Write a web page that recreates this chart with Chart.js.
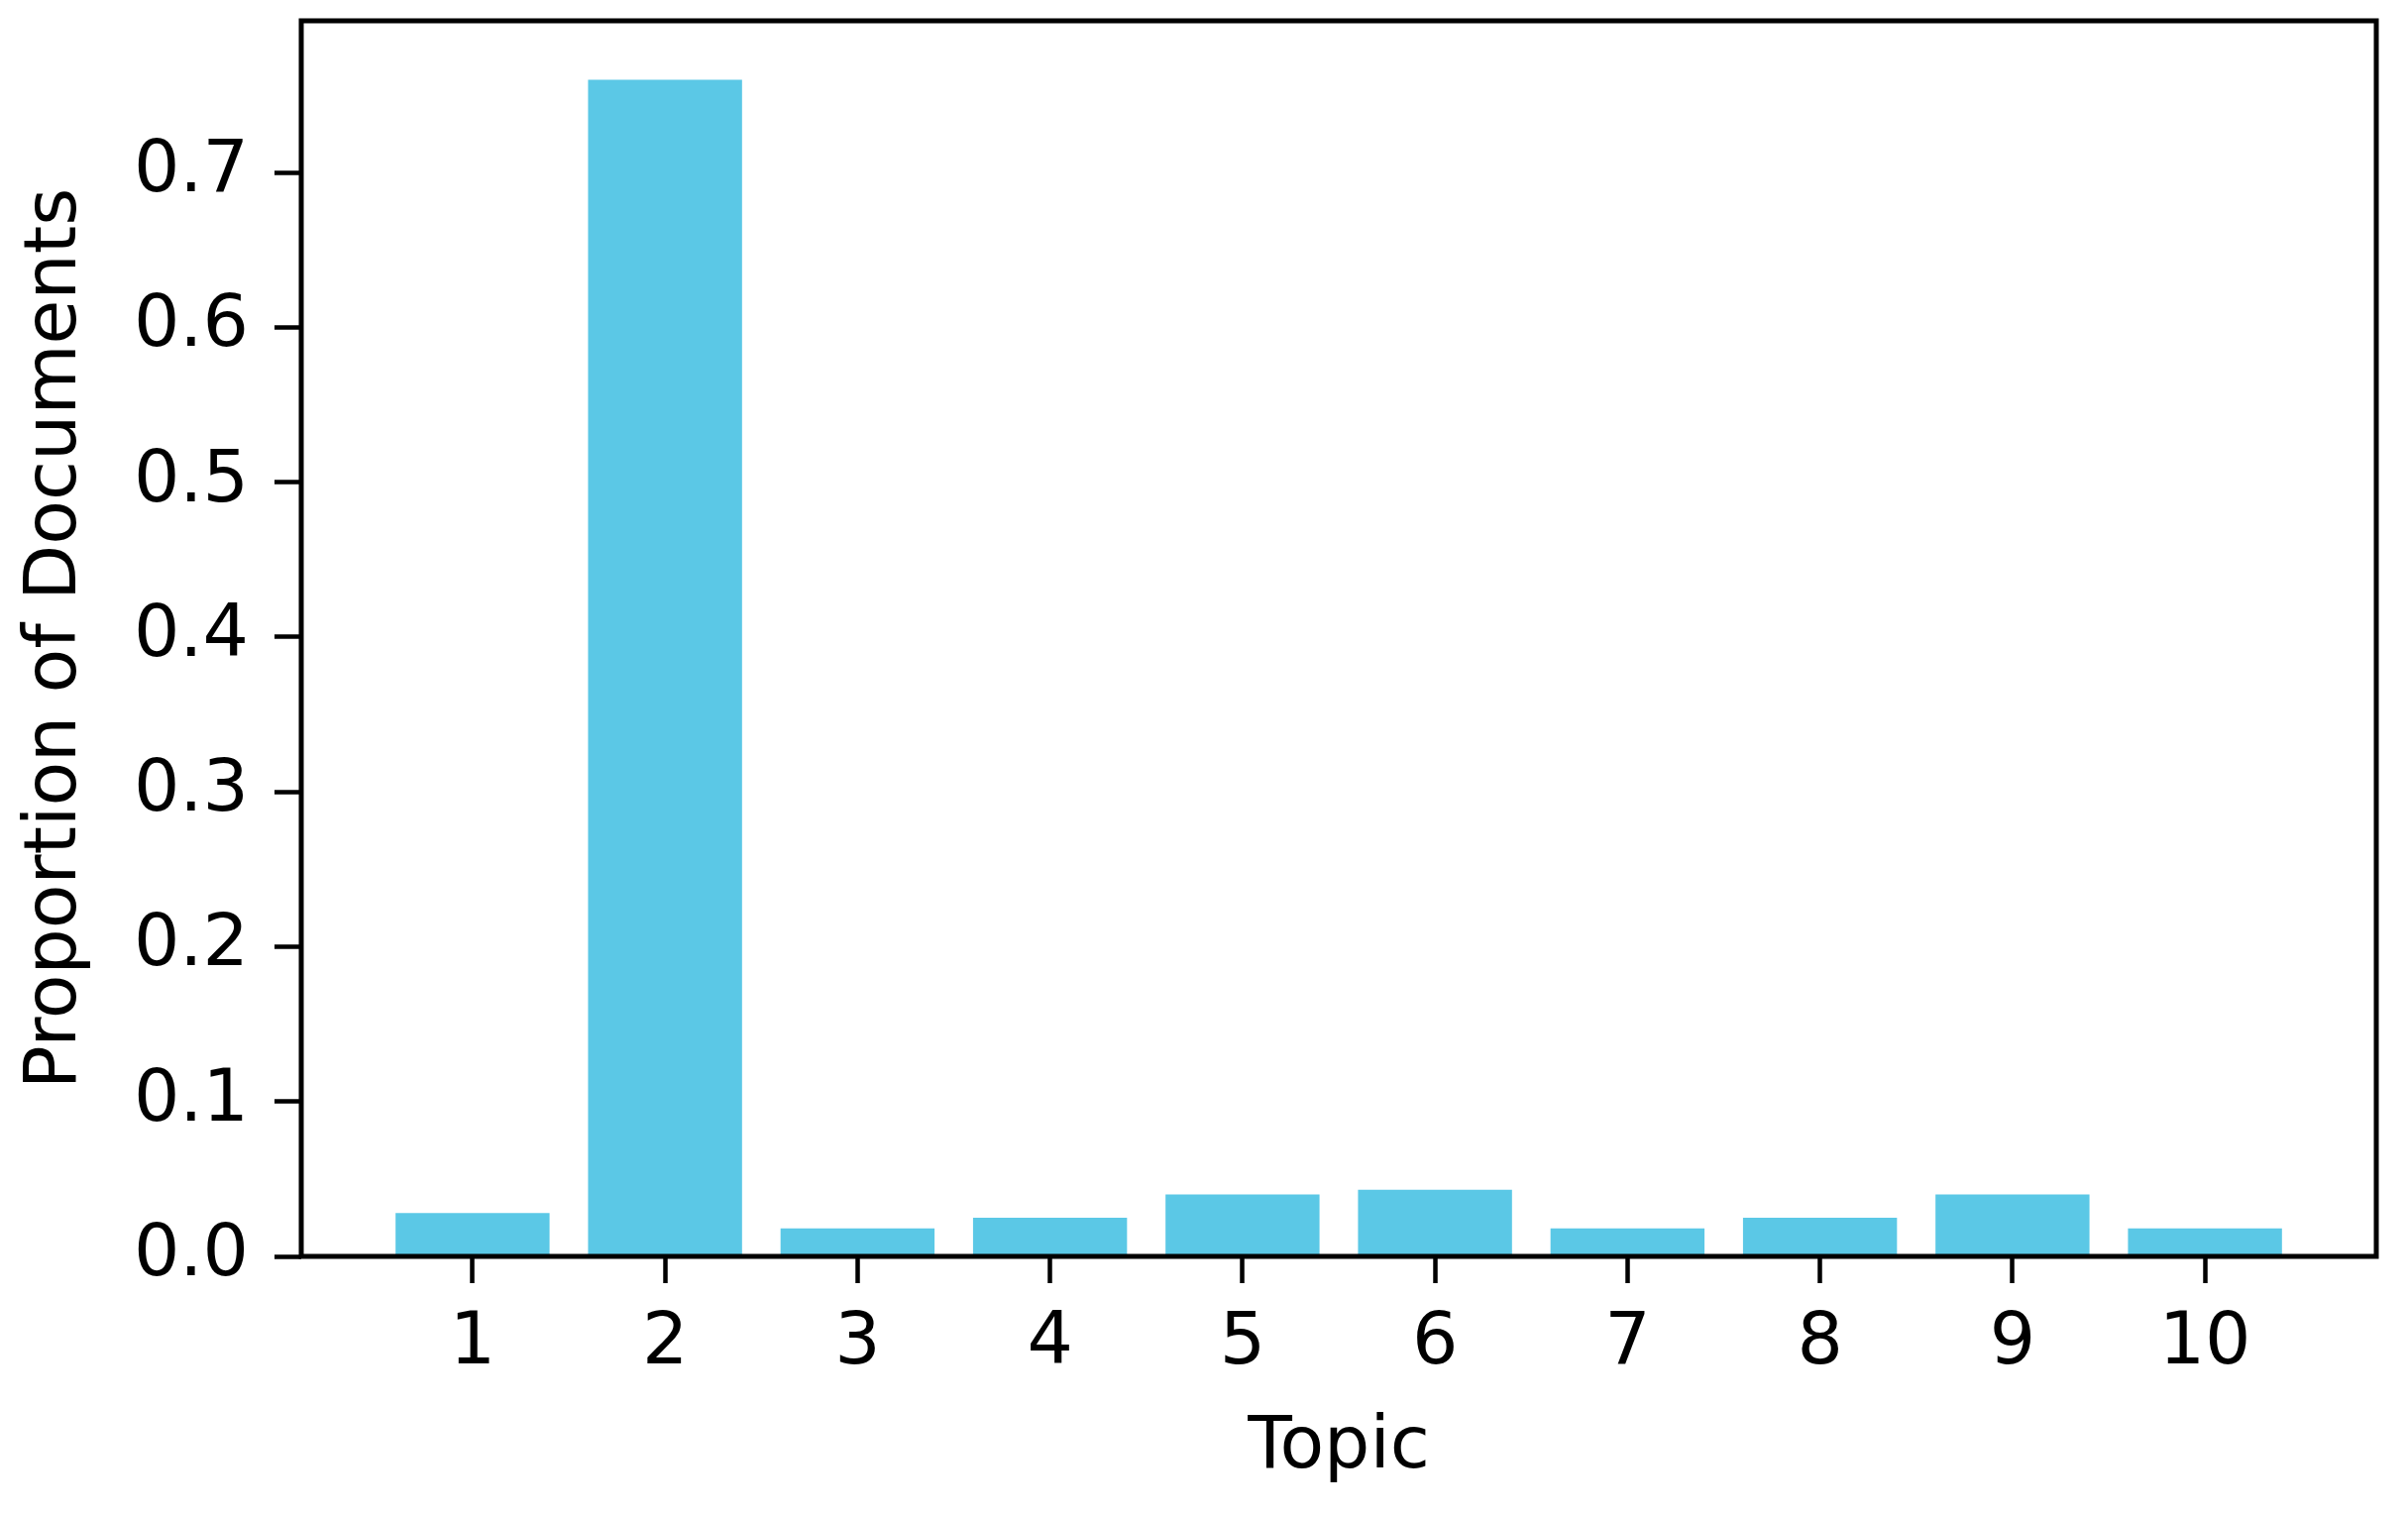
<!DOCTYPE html>
<html>
<head>
<meta charset="utf-8">
<title>Proportion of Documents by Topic</title>
<script src="https://cdn.jsdelivr.net/npm/chart.js@4.4.1/dist/chart.umd.min.js"></script>
<style>
	html, body {margin: 0; padding: 0; background: #fff;}
	#wrap      {width: 2430px; height: 1528px;}
</style>
</head>
<body>
<div id="wrap"><canvas id="topic-chart" width="2430" height="1528"></canvas></div>
<script>
// Chart data
var topics      = [1, 2, 3, 4, 5, 6, 7, 8, 9, 10];
var proportions = [0.028, 0.760, 0.018, 0.025, 0.040, 0.043, 0.018, 0.025, 0.040, 0.018];
var yTicks      = [0.0, 0.1, 0.2, 0.3, 0.4, 0.5, 0.6, 0.7];
var xLabel      = 'Topic';
var yLabel      = 'Proportion of Documents';

var barColor  = '#5bc8e6';
var inkColor  = '#000000';
var fontName  = '"DejaVu Sans", sans-serif';
var fontSize  = 73;
var barWidth  = 0.8;

// Axis limits the way matplotlib pads a bar chart (5% margins, y from 0)
var xSpan = (topics[topics.length - 1] + barWidth / 2) - (topics[0] - barWidth / 2);
var xMin  = topics[0] - barWidth / 2 - xSpan * 0.05;
var xMax  = topics[topics.length - 1] + barWidth / 2 + xSpan * 0.05;
var yMax  = Math.max.apply(null, proportions) * 1.05;

// Frame around the plot area, like the axes spines
var framePlugin = {
	id: 'frame',
	afterDatasetsDraw: function(chart) {
		var area = chart.chartArea, ctx = chart.ctx;
		ctx.save();
		ctx.strokeStyle = inkColor;
		ctx.lineWidth   = 5;
		ctx.strokeRect(area.left, area.top, area.right - area.left, area.bottom - area.top);
		ctx.restore();
	}
};

var tickGrid = {
	display:         true,
	drawOnChartArea: false,
	drawTicks:       true,
	tickLength:      27,
	tickWidth:       4.5,
	tickColor:       inkColor,
	offset:          false
};

var ctx = document.getElementById('topic-chart').getContext('2d');
var topicChart = new Chart(ctx, {
	type: 'bar',
	plugins: [framePlugin],
	data: {
		datasets: [{
			label:              yLabel,
			data:               topics.map(function(t, i) {return {x: t, y: proportions[i]};}),
			backgroundColor:    barColor,
			borderWidth:        0,
			barPercentage:      barWidth,
			categoryPercentage: 1.0
		}]
	},
	options: {
		responsive:          false,
		maintainAspectRatio: false,
		devicePixelRatio:    1,
		animation:           false,
		layout: {padding: {left: 0, top: 21, right: 32, bottom: 0}},
		plugins: {
			legend:  {display: false},
			tooltip: {enabled: false}
		},
		scales: {
			x: {
				type:   'linear',
				min:    xMin,
				max:    xMax,
				offset: false,
				grid:   tickGrid,
				border: {display: false},
				afterBuildTicks: function(scale) {scale.ticks = topics.map(function(v) {return {value: v};});},
				afterFit: function(scale) {
					scale.height       = 260;
					scale.paddingLeft  = 0;
					scale.paddingRight = 0;
				},
				ticks: {
					color:       inkColor,
					padding:     18,
					maxRotation: 0,
					font:        {family: fontName, size: fontSize},
					callback:    function(value) {return String(value);}
				},
				title: {
					display: true,
					text:    xLabel,
					color:   inkColor,
					font:    {family: fontName, size: fontSize},
					padding: {top: 0, bottom: 22}
				}
			},
			y: {
				type:  'linear',
				min:   0,
				max:   yMax,
				grid:   tickGrid,
				border: {display: false},
				afterBuildTicks: function(scale) {scale.ticks = yTicks.map(function(v) {return {value: v};});},
				afterFit: function(scale) {
					scale.width         = 304;
					scale.paddingTop    = 0;
					scale.paddingBottom = 0;
				},
				ticks: {
					color:    inkColor,
					padding:  26,
					font:     {family: fontName, size: fontSize},
					callback: function(value) {return value.toFixed(1);}
				},
				title: {
					display: true,
					text:    yLabel,
					color:   inkColor,
					font:    {family: fontName, size: fontSize},
					padding: {top: 13, bottom: 0}
				}
			}
		}
	}
});
</script>
</body>
</html>
